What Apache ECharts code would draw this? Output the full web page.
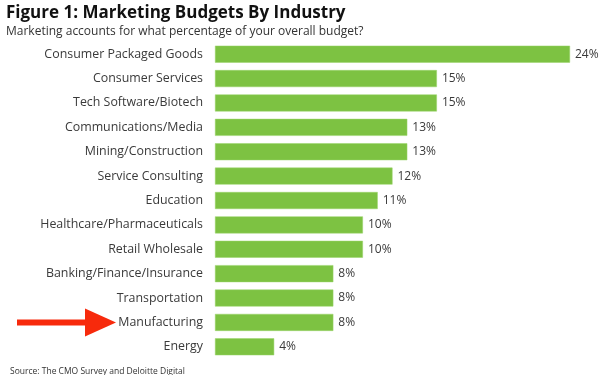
<!DOCTYPE html>
<html>
<head>
<meta charset="utf-8">
<script src="https://cdn.jsdelivr.net/npm/echarts@6/dist/echarts.min.js"></script>
<style>
  html, body { margin: 0; padding: 0; background: #fff; }
  #chart { width: 600px; height: 375px; }
</style>
</head>
<body>
<div id="chart"></div>
<script>
// Datos del gráfico
const industrias = [
    'Consumer Packaged Goods', 'Consumer Services', 'Tech Software/Biotech',
    'Communications/Media', 'Mining/Construction', 'Service Consulting',
    'Education', 'Healthcare/Pharmaceuticals', 'Retail Wholesale',
    'Banking/Finance/Insurance', 'Transportation', 'Manufacturing', 'Energy'
];
const porcentajes = [24, 15, 15, 13, 13, 12, 11, 10, 10, 8, 8, 8, 4];
const destacado = 'Manufacturing';

const chart = echarts.init(document.getElementById('chart'));
const fuente = '"Open Sans", "Noto Sans", sans-serif';

const option = {
    animation: false,
    textStyle: { fontFamily: fuente },
    title: [
        {
            text: 'Figure 1: Marketing Budgets By Industry',
            left: 1, top: 0,
            textStyle: { fontSize: 17, fontWeight: 'bold', color: '#111', fontFamily: fuente }
        },
        {
            text: 'Marketing accounts for what percentage of your overall budget?',
            left: 1, top: 21,
            textStyle: { fontSize: 12, fontWeight: 'normal', color: '#333', fontFamily: fuente }
        },
        {
            text: 'Source: The CMO Survey and Deloitte Digital',
            left: 5, top: 362,
            textStyle: { fontSize: 8.5, fontWeight: 'normal', color: '#333', fontFamily: fuente }
        }
    ],
    grid: { left: 215, right: 30, top: 42, bottom: 16 },
    xAxis: {
        type: 'value', min: 0, max: 24,
        show: false
    },
    yAxis: {
        type: 'category',
        inverse: true,
        data: industrias,
        axisLine: { show: false },
        axisTick: { show: false },
        axisLabel: { color: '#3a3a3a', fontSize: 12.4, margin: 12, fontFamily: fuente }
    },
    series: [{
        type: 'bar',
        data: porcentajes,
        barWidth: 17,
        itemStyle: { color: '#7dc242', borderColor: '#9ad46a', borderWidth: 0.5 },
        label: {
            show: true, position: 'right', distance: 5,
            formatter: '{c}%', color: '#3a3a3a', fontSize: 12, fontFamily: fuente
        }
    }]
};
chart.setOption(option);

// Flecha roja apuntando a Manufacturing
const yFlecha = chart.convertToPixel({ yAxisIndex: 0 }, destacado);
chart.setOption({
    graphic: [
        {
            type: 'rect',
            shape: { x: 17, y: yFlecha - 3, width: 70, height: 6 },
            style: { fill: '#f72a0c' }
        },
        {
            type: 'polygon',
            shape: { points: [[85, yFlecha - 14], [116, yFlecha], [85, yFlecha + 14]] },
            style: { fill: '#f72a0c' }
        }
    ]
});
</script>
</body>
</html>
